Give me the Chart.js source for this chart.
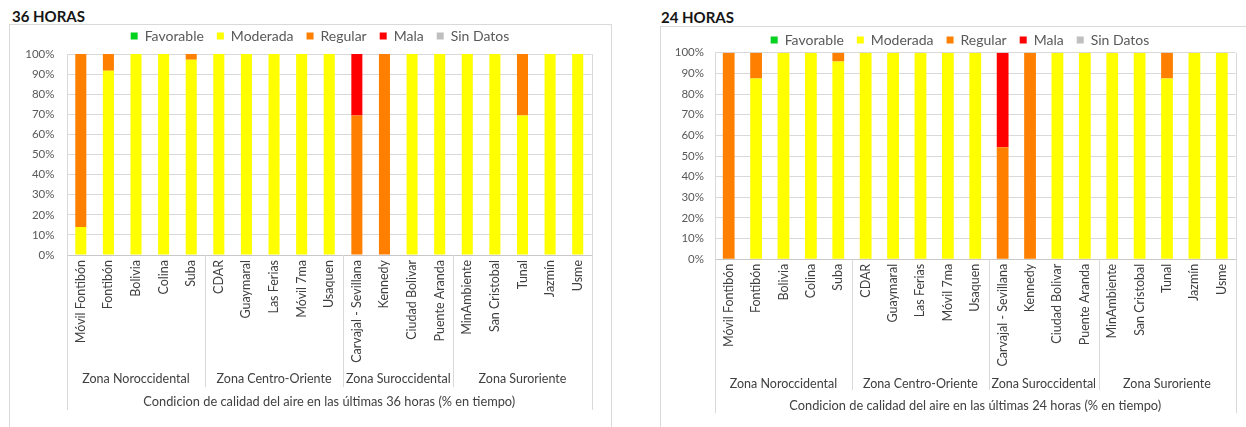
<!DOCTYPE html>
<html>
<head>
<meta charset="utf-8">
<script src="https://cdn.jsdelivr.net/npm/chart.js@4"></script>
<style>
  html, body { margin: 0; padding: 0; background: #fff; }
  body { width: 1246px; height: 427px; position: relative; overflow: hidden; font-family: Lato, sans-serif; }
  .box { position: absolute; box-sizing: border-box; border: 1px solid #d9d9d9; height: 600px; }
  .title { position: absolute; font-weight: bold; font-size: 15px; color: #151515; line-height: 15px; }
  canvas { position: absolute; top: 0; }
</style>
</head>
<body>
<div class="box" style="left:9px; top:24px; width:603px;"></div>
<div class="box" style="left:660px; top:26px; width:700px;"></div>
<div class="title" style="left:12px; top:9px;">36 HORAS</div>
<div class="title" style="left:661px; top:10px;">24 HORAS</div>
<canvas id="chart36" width="623" height="427" style="left:0;"></canvas>
<canvas id="chart24" width="623" height="427" style="left:623px;"></canvas>

<script>
// Estaciones (categorias) y zonas
const stations = [
  "Móvil Fontibón", "Fontibón", "Bolivia", "Colina", "Suba",
  "CDAR", "Guaymaral", "Las Ferias", "Móvil 7ma", "Usaquen",
  "Carvajal - Sevillana", "Kennedy", "Ciudad Bolivar", "Puente Aranda",
  "MinAmbiente", "San Cristobal", "Tunal", "Jazmín", "Usme",
];
const zoneNames = ["Zona Noroccidental", "Zona Centro-Oriente", "Zona Suroccidental", "Zona Suroriente"];
const zoneSizes = [5, 5, 4, 5];

const levels = ["Favorable", "Moderada", "Regular", "Mala", "Sin Datos"];
const yTicks = [0, 10, 20, 30, 40, 50, 60, 70, 80, 90, 100];

// 36 horas (% en tiempo)
const favorable36 = [0, 0, 0, 0, 0, 0, 0, 0, 0, 0, 0, 0, 0, 0, 0, 0, 0, 0, 0];
const moderada36 = [13.9, 91.7, 100, 100, 97.2, 100, 100, 100, 100, 100, 0, 0, 100, 100, 100, 100, 69.4, 100, 100];
const regular36 = [86.1, 8.3, 0, 0, 2.8, 0, 0, 0, 0, 0, 69.4, 100, 0, 0, 0, 0, 30.6, 0, 0];
const mala36 = [0, 0, 0, 0, 0, 0, 0, 0, 0, 0, 30.6, 0, 0, 0, 0, 0, 0, 0, 0];
const sinDatos36 = [0, 0, 0, 0, 0, 0, 0, 0, 0, 0, 0, 0, 0, 0, 0, 0, 0, 0, 0];

// 24 horas (% en tiempo)
const favorable24 = [0, 0, 0, 0, 0, 0, 0, 0, 0, 0, 0, 0, 0, 0, 0, 0, 0, 0, 0];
const moderada24 = [0, 87.5, 100, 100, 95.8, 100, 100, 100, 100, 100, 0, 0, 100, 100, 100, 100, 87.5, 100, 100];
const regular24 = [100, 12.5, 0, 0, 4.2, 0, 0, 0, 0, 0, 54.2, 100, 0, 0, 0, 0, 12.5, 0, 0];
const mala24 = [0, 0, 0, 0, 0, 0, 0, 0, 0, 0, 45.8, 0, 0, 0, 0, 0, 0, 0, 0];
const sinDatos24 = [0, 0, 0, 0, 0, 0, 0, 0, 0, 0, 0, 0, 0, 0, 0, 0, 0, 0, 0];

const levelColors = ["#00d21e", "#ffff00", "#ff8000", "#ff0000", "#bfbfbf"];
const LEGEND_FONT = 14;

Chart.defaults.font.family = "Lato, 'Noto Sans', sans-serif";

// legend placement + zone labels / separators under the category axis
const zonePlugin = {
  id: "zones",
  afterLayout(chart, args, opts) {
    const lg = chart.legend;
    if (!lg) return;
    const dx = opts.legendX - (lg.left + lg.right) / 2;
    const dy = opts.legendY - (lg.top + lg.options.labels.padding + LEGEND_FONT / 2);
    lg.left += dx; lg.right += dx;
    lg.top += dy; lg.bottom += dy;
  },
  afterDraw(chart, args, opts) {
    const { ctx, chartArea: a, scales: { x } } = chart;
    const px = (v) => Math.round(v) + 0.5;
    const seg = (x0, y0, x1, y1) => {
      ctx.beginPath(); ctx.moveTo(x0, y0); ctx.lineTo(x1, y1); ctx.stroke();
    };
    ctx.save();
    ctx.strokeStyle = "#d9d9d9";
    ctx.lineWidth = 1;
    seg(px(a.right), a.top, px(a.right), opts.lineBottom);
    seg(px(a.left), a.bottom, px(a.left), opts.lineBottom);

    ctx.fillStyle = "#404040";
    ctx.font = "12.5px Lato, 'Noto Sans', sans-serif";
    ctx.textAlign = "center";
    ctx.textBaseline = "middle";
    let start = 0;
    zoneSizes.forEach((n, i) => {
      const end = start + n;
      const x0 = start === 0 ? a.left : (x.getPixelForValue(start - 1) + x.getPixelForValue(start)) / 2;
      const x1 = end === stations.length ? a.right : (x.getPixelForValue(end - 1) + x.getPixelForValue(end)) / 2;
      if (end < stations.length) seg(px(x1), a.bottom, px(x1), opts.sepBottom);
      ctx.fillText(zoneNames[i], (x0 + x1) / 2, opts.groupY);
      start = end;
    });
    ctx.restore();
  },
};

function makeChart(id, series, hours, cfg) {
  const ctx = document.getElementById(id).getContext("2d");
  return new Chart(ctx, {
    type: "bar",
    data: {
      labels: stations,
      datasets: levels.map((name, i) => ({
        label: name,
        data: series[i],
        backgroundColor: levelColors[i],
        borderWidth: 0,
        barPercentage: cfg.barPct,
        categoryPercentage: 1,
      })),
    },
    options: {
      responsive: false,
      animation: false,
      layout: { padding: cfg.padding },
      plugins: {
        tooltip: { enabled: false },
        legend: {
          position: "top",
          labels: {
            boxWidth: 7,
            boxHeight: 7,
            padding: 13,
            color: "#595959",
            font: { size: LEGEND_FONT },
          },
        },
        zones: cfg.zones,
      },
      scales: {
        x: {
          stacked: true,
          grid: { display: false, drawTicks: false },
          border: { display: true, color: "#c8c8c8" },
          ticks: {
            autoSkip: false,
            minRotation: 90,
            maxRotation: 90,
            padding: cfg.xTickPad,
            color: "#404040",
            font: { size: 12.5 },
          },
          title: {
            display: true,
            text: "Condicion de calidad del aire en las últimas " + hours + " horas (% en tiempo)",
            color: "#404040",
            font: { size: 12.8 },
            padding: { top: 0, bottom: cfg.titlePad },
          },
          afterFit: (scale) => { scale.height = cfg.xHeight; },
        },
        y: {
          stacked: true,
          min: 0,
          max: 100,
          grid: { color: "#d9d9d9", drawTicks: false },
          border: { color: "#d9d9d9" },
          afterBuildTicks: (scale) => { scale.ticks = yTicks.map((v) => ({ value: v })); },
          ticks: {
            padding: cfg.yTickPad,
            color: "#595959",
            font: { size: 11.5 },
            callback: (v) => v + "%",
          },
          afterFit: (scale) => { scale.width = 60; },
        },
      },
    },
    plugins: [zonePlugin],
  });
}

makeChart("chart36", [favorable36, moderada36, regular36, mala36, sinDatos36], 36, {
  padding: { left: 7, right: 31.5, top: 17, bottom: 0 },
  barPct: 0.4,
  xHeight: 172,
  xTickPad: 5,
  yTickPad: 12.5,
  titlePad: 17.5,
  zones: { legendX: 320, legendY: 36, lineBottom: 410, sepBottom: 387, groupY: 378.5 },
});

makeChart("chart24", [favorable24, moderada24, regular24, mala24, sinDatos24], 24, {
  padding: { left: 32, right: 10.5, top: 15.7, bottom: 0 },
  barPct: 0.43,
  xHeight: 167.7,
  xTickPad: 4.5,
  yTickPad: 11,
  titlePad: 13.8,
  zones: { legendX: 960 - 623, legendY: 40, lineBottom: 413, sepBottom: 390, groupY: 383.5 },
});
</script>
</body>
</html>
